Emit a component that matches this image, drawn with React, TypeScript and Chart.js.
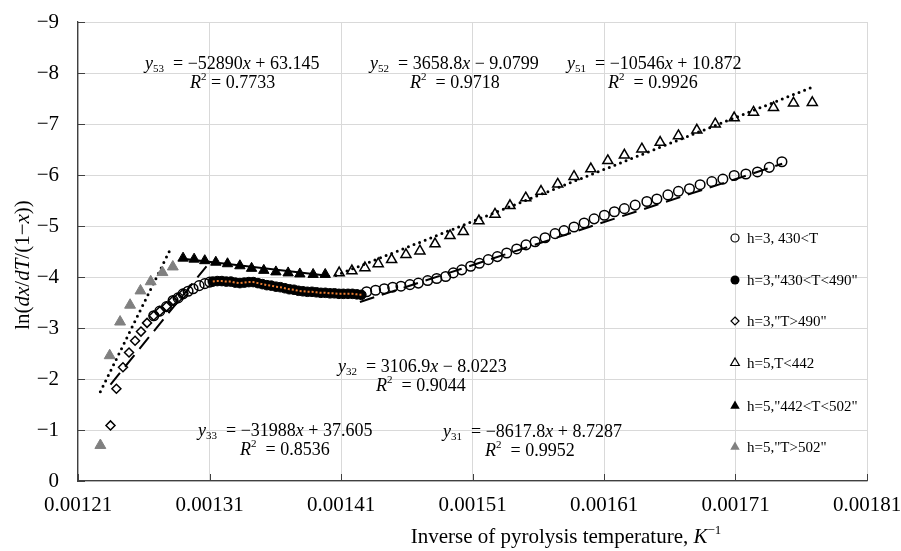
import React, { useEffect, useRef } from "react";
import { Chart, registerables } from "chart.js";

Chart.register(...registerables);

const SERIF = '"Liberation Serif", "Times New Roman", Times, serif';

// ---------- axis ticks ----------
const xTickValues = [0.00121, 0.00131, 0.00141, 0.00151, 0.00161, 0.00171, 0.00181];
const xTickLabels = ["0.00121", "0.00131", "0.00141", "0.00151", "0.00161", "0.00171", "0.00181"];
const yTickValues = [0, -1, -2, -3, -4, -5, -6, -7, -8, -9];
const yTickLabels = ["0", "−1", "−2", "−3", "−4", "−5", "−6", "−7", "−8", "−9"];

// ---------- h=3, 430<T (open circles) ----------
const h3AllX = [
  0.0012676, 0.0012722, 0.0012773, 0.0012823, 0.0012861, 0.0012899, 0.0012937, 0.0012975, 0.0013021, 0.0013064, 0.0013102,
  0.0014295, 0.0014363, 0.0014429, 0.0014493, 0.0014556, 0.0014624, 0.0014688, 0.0014759, 0.0014828, 0.0014896,
  0.0014954, 0.0015018, 0.0015086, 0.0015152, 0.001522, 0.0015289, 0.001536, 0.0015436, 0.0015507, 0.0015576,
  0.0015652, 0.0015728, 0.0015796, 0.0015872, 0.0015949, 0.0016025, 0.0016103, 0.0016179, 0.0016255, 0.0016337,
  0.0016426, 0.0016502, 0.0016586, 0.0016666, 0.001675, 0.0016831, 0.001692, 0.0017004, 0.001709, 0.0017179,
  0.0017267, 0.0017357, 0.0017453,
];
const h3AllY = [
  -3.24, -3.33, -3.42, -3.54, -3.59, -3.67, -3.72, -3.77, -3.83, -3.87, -3.9,
  -3.71, -3.74, -3.77, -3.8, -3.82, -3.85, -3.88, -3.93, -3.97, -4.01,
  -4.08, -4.14, -4.21, -4.27, -4.34, -4.4, -4.47, -4.55, -4.63, -4.69,
  -4.77, -4.85, -4.91, -4.98, -5.06, -5.14, -5.21, -5.28, -5.34, -5.41,
  -5.48, -5.53, -5.61, -5.68, -5.73, -5.81, -5.87, -5.92, -5.99, -6.02,
  -6.06, -6.15, -6.26,
];

// ---------- h=3, "430<T<490" (filled circles) ----------
const h3MidX = [
  0.0013125, 0.0013159, 0.0013194, 0.0013228, 0.0013262, 0.0013296, 0.0013331, 0.0013365, 0.0013399, 0.0013433,
  0.0013468, 0.0013502, 0.0013536, 0.001357, 0.0013605, 0.0013639, 0.0013673, 0.0013707, 0.0013742, 0.0013776,
  0.001381, 0.0013844, 0.0013879, 0.0013913, 0.0013947, 0.0013981, 0.0014016, 0.001405, 0.0014084, 0.0014118,
  0.0014153, 0.0014187, 0.0014221, 0.0014255,
];
const h3MidY = [
  -3.91, -3.92, -3.92, -3.91, -3.91, -3.89, -3.88, -3.89, -3.9, -3.9,
  -3.88, -3.86, -3.84, -3.83, -3.81, -3.8, -3.78, -3.76, -3.75, -3.73,
  -3.72, -3.71, -3.71, -3.7, -3.69, -3.69, -3.68, -3.68, -3.67, -3.67,
  -3.67, -3.67, -3.66, -3.65,
];

// ---------- h=3, "T>490" (open diamonds) ----------
const h3HighX = [
  0.0012347, 0.0012392, 0.0012442, 0.0012488, 0.0012534, 0.0012579, 0.0012625, 0.0012676, 0.0012722, 0.0012773,
  0.0012823, 0.0012861, 0.0012899,
];
const h3HighY = [-1.09, -1.81, -2.23, -2.52, -2.75, -2.93, -3.1, -3.24, -3.33, -3.42, -3.54, -3.59, -3.67];

// ---------- h=5, T<442 (open triangles) ----------
const h5LowX = [
  0.0014086, 0.0014183, 0.0014282, 0.0014383, 0.0014485, 0.0014594, 0.00147, 0.0014815, 0.0014929, 0.001503,
  0.0015149, 0.0015271, 0.0015385, 0.0015505, 0.0015621, 0.0015748, 0.0015872, 0.0016, 0.0016129, 0.0016255,
  0.0016388, 0.0016527, 0.0016666, 0.0016806, 0.0016946, 0.001709, 0.0017237, 0.0017389, 0.0017541, 0.0017684,
];
const h5LowY = [
  -4.08, -4.12, -4.18, -4.26, -4.34, -4.44, -4.51, -4.65, -4.81, -4.89,
  -5.1, -5.23, -5.4, -5.55, -5.68, -5.82, -5.97, -6.12, -6.28, -6.39,
  -6.51, -6.64, -6.77, -6.88, -7.0, -7.12, -7.23, -7.32, -7.41, -7.42,
];

// ---------- h=5, "442<T<502" (filled triangles) ----------
const h5MidX = [
  0.0012899, 0.0012983, 0.0013064, 0.0013148, 0.0013237, 0.0013331, 0.001342, 0.0013513, 0.0013605, 0.0013698,
  0.0013787, 0.0013888, 0.001398,
];
const h5MidY = [-4.37, -4.35, -4.32, -4.29, -4.26, -4.22, -4.17, -4.13, -4.1, -4.08, -4.06, -4.05, -4.05];

// ---------- h=5, "T>502" (grey triangles) ----------
const h5HighX = [0.001227, 0.0012341, 0.001242, 0.0012496, 0.0012575, 0.0012653, 0.0012742, 0.0012821];
const h5HighY = [-0.7, -2.46, -3.12, -3.45, -3.73, -3.91, -4.09, -4.2];

// ---------- trend lines (end points) ----------
const fit53X = [0.001227, 0.0012811];
const fit53Y = [-1.75, -4.59];
const fit52X = [0.00129, 0.0014015];
const fit52Y = [-4.36, -4.02];
const fit51X = [0.0014061, 0.0017691];
const fit51Y = [-4.03, -7.73];
const fit33X = [0.0012347, 0.0013077];
const fit33Y = [-1.89, -4.21];
const fit31X = [0.0014244, 0.0017455];
const fit31Y = [-3.51, -6.22];

// ---------- legend ----------
const legendLabels = ['h=3, 430<T', 'h=3,"430<T<490"', 'h=3,"T>490"', 'h=5,T<442', 'h=5,"442<T<502"', 'h=5,"T>502"'];

const pts = (xs: number[], ys: number[]) => xs.map((x, i) => ({ x, y: ys[i] }));

type Seg = { t: string; it?: boolean; sub?: boolean; sup?: boolean };

const eqLines: { x: number; y: number; segs: Seg[] }[] = [
  { x: 145, y: 64, segs: [{ t: "y", it: true }, { t: "53", sub: true }, { t: "  = −52890" }, { t: "x", it: true }, { t: " + 63.145" }] },
  { x: 190, y: 83, segs: [{ t: "R", it: true }, { t: "2", sup: true }, { t: " = 0.7733" }] },
  { x: 370, y: 64, segs: [{ t: "y", it: true }, { t: "52", sub: true }, { t: "  = 3658.8" }, { t: "x", it: true }, { t: " − 9.0799" }] },
  { x: 410, y: 83, segs: [{ t: "R", it: true }, { t: "2", sup: true }, { t: "  = 0.9718" }] },
  { x: 567, y: 64, segs: [{ t: "y", it: true }, { t: "51", sub: true }, { t: "  = −10546" }, { t: "x", it: true }, { t: " + 10.872" }] },
  { x: 608, y: 83, segs: [{ t: "R", it: true }, { t: "2", sup: true }, { t: "  = 0.9926" }] },
  { x: 338, y: 367, segs: [{ t: "y", it: true }, { t: "32", sub: true }, { t: "  = 3106.9" }, { t: "x", it: true }, { t: " − 8.0223" }] },
  { x: 376, y: 386, segs: [{ t: "R", it: true }, { t: "2", sup: true }, { t: "  = 0.9044" }] },
  { x: 198, y: 431, segs: [{ t: "y", it: true }, { t: "33", sub: true }, { t: "  = −31988" }, { t: "x", it: true }, { t: " + 37.605" }] },
  { x: 240, y: 450, segs: [{ t: "R", it: true }, { t: "2", sup: true }, { t: "  = 0.8536" }] },
  { x: 443, y: 432, segs: [{ t: "y", it: true }, { t: "31", sub: true }, { t: "  = −8617.8" }, { t: "x", it: true }, { t: " + 8.7287" }] },
  { x: 485, y: 451, segs: [{ t: "R", it: true }, { t: "2", sup: true }, { t: "  = 0.9952" }] },
];

const yTitle: Seg[] = [
  { t: "ln(" }, { t: "dx", it: true }, { t: "/" }, { t: "dT", it: true }, { t: "/(1−" }, { t: "x", it: true }, { t: "))" },
];
const xTitle: Seg[] = [{ t: "Inverse of pyrolysis temperature, " }, { t: "K", it: true }, { t: "−1", sup: true }];

function segFont(s: Seg, size: number) {
  const sz = s.sub || s.sup ? Math.round(size * 0.62) : size;
  return `${s.it ? "italic " : ""}${sz}px ${SERIF}`;
}
function segsWidth(ctx: CanvasRenderingContext2D, segs: Seg[], size: number) {
  let w = 0;
  for (const s of segs) {
    ctx.font = segFont(s, size);
    w += ctx.measureText(s.t).width;
  }
  return w;
}
function drawSegs(ctx: CanvasRenderingContext2D, segs: Seg[], x: number, y: number, size: number) {
  let cx = x;
  ctx.textBaseline = "middle";
  ctx.textAlign = "left";
  for (const s of segs) {
    ctx.font = segFont(s, size);
    const dy = s.sub ? size * 0.28 : s.sup ? -size * 0.32 : 0;
    ctx.fillText(s.t, cx, y + dy);
    cx += ctx.measureText(s.t).width;
  }
}

function drawMarker(ctx: CanvasRenderingContext2D, kind: string, x: number, y: number, r: number, fill: string | null, stroke: string | null) {
  ctx.beginPath();
  if (kind === "circle") {
    ctx.arc(x, y, r, 0, Math.PI * 2);
  } else if (kind === "diamond") {
    ctx.moveTo(x, y - r);
    ctx.lineTo(x + r, y);
    ctx.lineTo(x, y + r);
    ctx.lineTo(x - r, y);
    ctx.closePath();
  } else {
    ctx.moveTo(x, y - r);
    ctx.lineTo(x + r * 0.866, y + r * 0.5);
    ctx.lineTo(x - r * 0.866, y + r * 0.5);
    ctx.closePath();
  }
  if (fill) {
    ctx.fillStyle = fill;
    ctx.fill();
  }
  if (stroke) {
    ctx.strokeStyle = stroke;
    ctx.lineWidth = 1.2;
    ctx.stroke();
  }
}

const legendMarkers = [
  { kind: "circle", r: 4, fill: null, stroke: "#000" },
  { kind: "circle", r: 4.5, fill: "#000", stroke: null },
  { kind: "diamond", r: 4, fill: null, stroke: "#000" },
  { kind: "triangle", r: 5, fill: null, stroke: "#000" },
  { kind: "triangle", r: 5.5, fill: "#000", stroke: null },
  { kind: "triangle", r: 5.5, fill: "#808080", stroke: null },
];

const TITLE_SIZE = 21;

const decorPlugin = {
  id: "decor",
  beforeDatasetsDraw(chart: any) {
    const { ctx, chartArea: a, scales } = chart;
    ctx.save();
    ctx.strokeStyle = "#404040";
    ctx.lineWidth = 1;
    ctx.beginPath();
    for (const v of xTickValues) {
      const px = Math.round(scales.x.getPixelForValue(v)) + 0.5;
      ctx.moveTo(px, a.bottom);
      ctx.lineTo(px, a.bottom - 7);
    }
    for (const v of yTickValues) {
      const py = Math.round(scales.y.getPixelForValue(v)) + 0.5;
      ctx.moveTo(a.left, py);
      ctx.lineTo(a.left + 7, py);
    }
    ctx.stroke();
    ctx.restore();
  },
  afterDraw(chart: any) {
    const { ctx } = chart;
    ctx.save();
    ctx.fillStyle = "#000";
    // equations
    for (const l of eqLines) drawSegs(ctx, l.segs, l.x, l.y, 18);
    // legend
    const rowY = [238, 280, 321, 363, 406, 447];
    legendLabels.forEach((lab, i) => {
      const m = legendMarkers[i];
      drawMarker(ctx, m.kind, 735, rowY[i], m.r, m.fill, m.stroke);
      ctx.fillStyle = "#000";
      ctx.font = `15px ${SERIF}`;
      ctx.textAlign = "left";
      ctx.textBaseline = "middle";
      ctx.fillText(lab, 747, rowY[i] + 1);
    });
    // x title
    const xw = segsWidth(ctx, xTitle, TITLE_SIZE);
    ctx.fillStyle = "#000";
    drawSegs(ctx, xTitle, 566 - xw / 2, 537, TITLE_SIZE);
    // y title
    ctx.save();
    ctx.translate(23, 265);
    ctx.rotate(-Math.PI / 2);
    const yw = segsWidth(ctx, yTitle, TITLE_SIZE);
    drawSegs(ctx, yTitle, -yw / 2, 0, TITLE_SIZE);
    ctx.restore();
    ctx.restore();
  },
};

export default function App() {
  const ref = useRef<HTMLCanvasElement | null>(null);
  useEffect(() => {
    if (!ref.current) return;
    const none = "rgba(0,0,0,0)";
    const chart = new Chart(ref.current, {
      type: "scatter",
      data: {
        datasets: [
          {
            label: "path",
            data: pts(h3MidX, h3MidY),
            showLine: true,
            pointRadius: 0,
            borderColor: "#ED7D31",
            borderWidth: 2,
            borderDash: [2, 2],
          },
          {
            label: legendLabels[1],
            data: pts(h3MidX, h3MidY),
            pointStyle: "circle",
            pointRadius: 4.8,
            backgroundColor: "#000",
            borderColor: "#000",
            borderWidth: 1,
          },
          {
            label: legendLabels[0],
            data: pts(h3AllX, h3AllY),
            pointStyle: "circle",
            pointRadius: 4.8,
            backgroundColor: none,
            borderColor: "#000",
            borderWidth: 1.5,
          },
          {
            label: legendLabels[2],
            data: pts(h3HighX, h3HighY),
            pointStyle: "rectRot",
            pointRadius: 4.5,
            backgroundColor: none,
            borderColor: "#000",
            borderWidth: 1.5,
          },
          {
            label: legendLabels[3],
            data: pts(h5LowX, h5LowY),
            pointStyle: "triangle",
            pointRadius: 5.8,
            backgroundColor: none,
            borderColor: "#000",
            borderWidth: 1.5,
          },
          {
            label: legendLabels[4],
            data: pts(h5MidX, h5MidY),
            pointStyle: "triangle",
            pointRadius: 6,
            backgroundColor: "#000",
            borderColor: "#000",
            borderWidth: 1,
          },
          {
            label: legendLabels[5],
            data: pts(h5HighX, h5HighY),
            pointStyle: "triangle",
            pointRadius: 6.3,
            backgroundColor: "#808080",
            borderColor: "#808080",
            borderWidth: 1,
          },
          {
            label: "y53",
            data: pts(fit53X, fit53Y),
            showLine: true,
            pointRadius: 0,
            borderColor: "#000",
            borderWidth: 3,
            borderDash: [0, 6],
            borderCapStyle: "round",
          },
          {
            label: "y33",
            data: pts(fit33X, fit33Y),
            showLine: true,
            pointRadius: 0,
            borderColor: "#000",
            borderWidth: 2,
            borderDash: [15, 8],
          },
          {
            label: "y52",
            data: pts(fit52X, fit52Y),
            showLine: true,
            pointRadius: 0,
            borderColor: "#000",
            borderWidth: 2,
          },
          {
            label: "y51",
            data: pts(fit51X, fit51Y),
            showLine: true,
            pointRadius: 0,
            borderColor: "#000",
            borderWidth: 3,
            borderDash: [0, 6],
            borderCapStyle: "round",
          },
          {
            label: "y31",
            data: pts(fit31X, fit31Y),
            showLine: true,
            pointRadius: 0,
            borderColor: "#000",
            borderWidth: 2,
            borderDash: [15, 8],
          },
        ],
      },
      options: {
        responsive: false,
        animation: false,
        layout: { padding: { top: 22, right: 34, left: 0, bottom: 0 } },
        plugins: { legend: { display: false }, tooltip: { enabled: false } },
        scales: {
          x: {
            type: "linear",
            min: 0.00121,
            max: 0.00181,
            afterBuildTicks: (s: any) => {
              s.ticks = xTickValues.map((v) => ({ value: v }));
            },
            afterFit: (s: any) => {
              s.height = 70;
              s.paddingLeft = 0;
              s.paddingRight = 0;
            },
            ticks: {
              padding: 12,
              color: "#000",
              font: { family: SERIF, size: 21 },
              maxRotation: 0,
              autoSkip: false,
              callback: (v: any) => {
                const i = xTickValues.findIndex((t) => Math.abs(t - v) < 1e-9);
                return i >= 0 ? xTickLabels[i] : "";
              },
            },
            grid: { color: "#d9d9d9", lineWidth: 1, drawTicks: false },
            border: { display: true, color: "#404040", width: 1.3 },
          },
          y: {
            type: "linear",
            min: -9,
            max: 0,
            reverse: true,
            afterBuildTicks: (s: any) => {
              s.ticks = yTickValues.map((v) => ({ value: v }));
            },
            afterFit: (s: any) => {
              s.width = 78;
              s.paddingTop = 0;
              s.paddingBottom = 0;
            },
            ticks: {
              padding: 19,
              color: "#000",
              font: { family: SERIF, size: 21 },
              autoSkip: false,
              callback: (v: any) => {
                const i = yTickValues.findIndex((t) => Math.abs(t - v) < 1e-9);
                return i >= 0 ? yTickLabels[i] : "";
              },
            },
            grid: { color: "#d9d9d9", lineWidth: 1, drawTicks: false },
            border: { display: true, color: "#404040", width: 1.3 },
          },
        },
      },
      plugins: [decorPlugin],
    } as any);
    return () => chart.destroy();
  }, []);
  return (
    <div style={{ position: "absolute", left: 0, top: 0, width: 901, height: 551, background: "#fff" }}>
      <canvas ref={ref} width={901} height={551} style={{ display: "block" }} />
    </div>
  );
}
